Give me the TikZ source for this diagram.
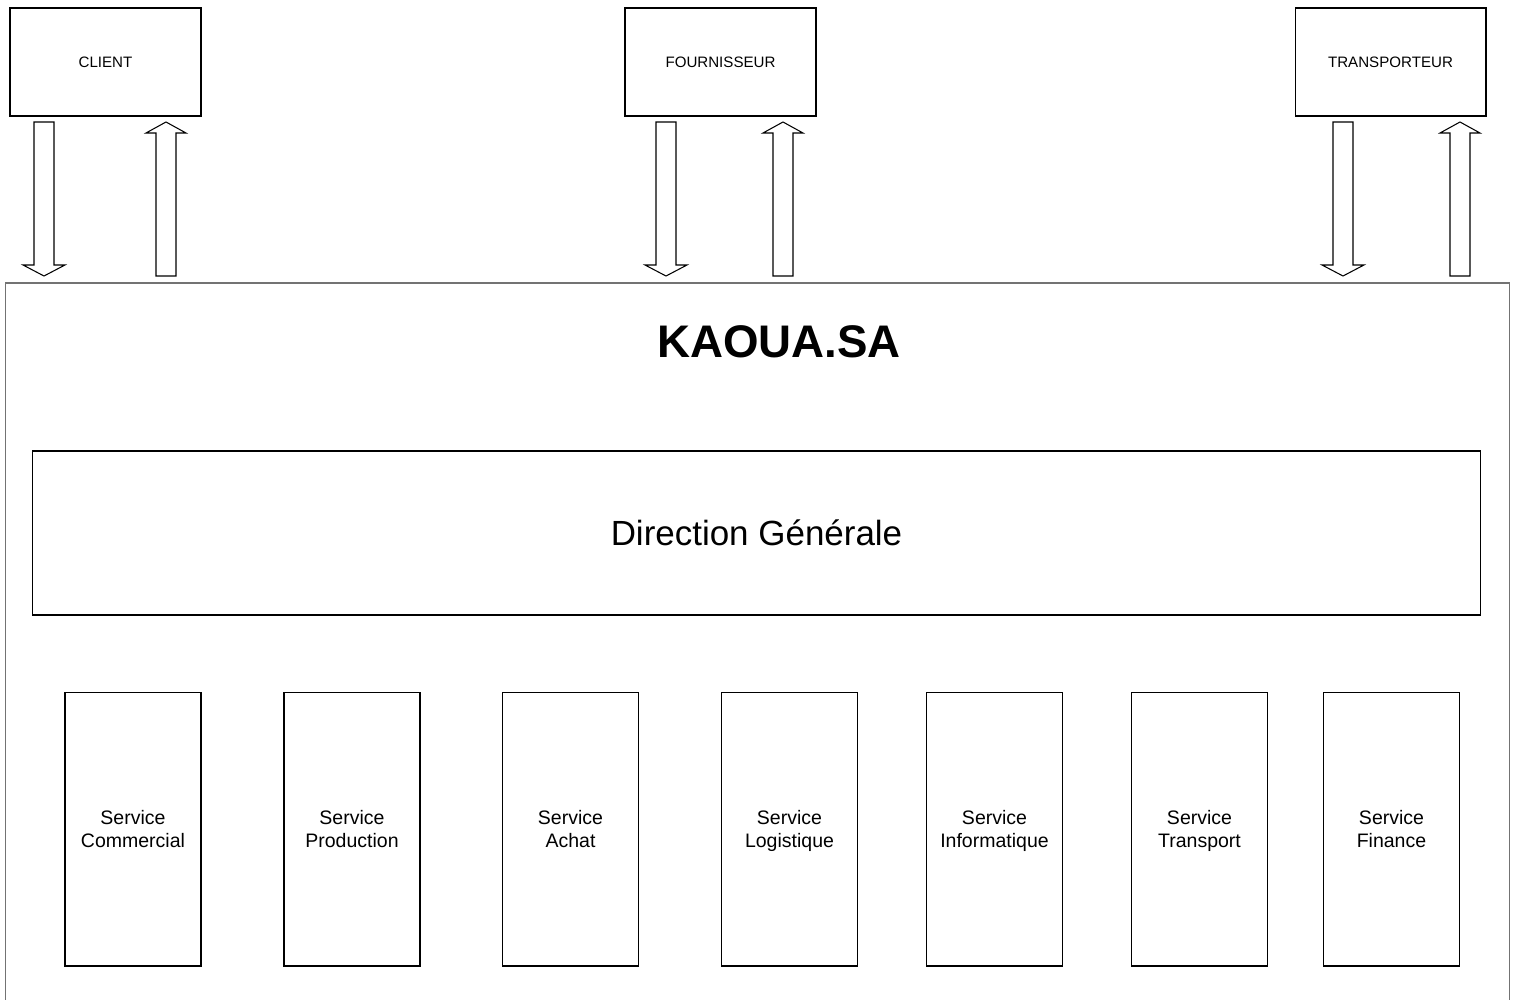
\documentclass[tikz,border=0pt]{standalone}
\usepackage{fontspec}
\setmainfont{Liberation Sans}
\usetikzlibrary{calc}

% hollow block arrows: #1 = x of the axis, #2 = top y, #3 = bottom y
\newcommand\blockdown[3]{%
  \draw[blockarrow] (#1-10,#2) -- (#1+10,#2) -- (#1+10,#3-11) -- (#1+21,#3-11)
    -- (#1,#3) -- (#1-21,#3-11) -- (#1-10,#3-11) -- cycle;}
\newcommand\blockup[3]{%
  \draw[blockarrow] (#1-10,#3) -- (#1+10,#3) -- (#1+10,#2+11) -- (#1+20,#2+11)
    -- (#1,#2) -- (#1-20,#2+11) -- (#1-10,#2+11) -- cycle;}

\begin{document}
\begin{tikzpicture}[x=0.02cm,y=-0.02cm,
  partner/.style={draw=black,line width=0.6pt,minimum width=3.82cm,minimum height=2.16cm,
    inner sep=0pt,font=\fontsize{8.6}{10}\selectfont},
  service/.style={draw=black,line width=0.6pt,minimum width=2.72cm,minimum height=5.48cm,
    inner sep=0pt,align=center,font=\fontsize{11.1}{13}\selectfont,
    execute at end node={\vphantom{g}}},
  servicelabel/.style={align=center,font=\fontsize{11.1}{13}\selectfont,
    execute at end node={\vphantom{g}}},
  blockarrow/.style={draw=black,line width=0.6pt,fill=white},
]
\useasboundingbox (0,0) rectangle (1516,1000);

% external partners
\node[partner] (client) at (105.5,62) {CLIENT};
\node[partner] (fournisseur) at (720.5,62) {FOURNISSEUR};
\node[partner] (transporteur) at (1390.5,62) {TRANSPORTEUR};

% company frame
\node[draw=black!55,line width=1pt,minimum width=30.09cm,minimum height=14.8cm,
  inner sep=0pt,anchor=north west] (kaoua) at (4.5,282) {};
\node[font=\bfseries\fontsize{26}{30}\selectfont] (title) at (779,342) {KAOUA.SA};

% flows between partners and the company
\blockdown{44}{122}{276}
\blockup{166}{122}{276}
\blockdown{666}{122}{276}
\blockup{783}{122}{276}
\blockdown{1343}{122}{276}
\blockup{1460}{122}{276}

% management
\node[draw=black,line width=0.6pt,minimum width=28.98cm,minimum height=3.28cm,
  inner sep=0pt,font=\fontsize{19.9}{23}\selectfont] (dg) at (756.5,533) {Direction Générale};

% departments
\node[service] (commercial) at (133,829) {};
\node[service] (production) at (352,829) {};
\node[service] (achat) at (570.5,829) {};
\node[service] (logistique) at (789.5,829) {};
\node[service] (informatique) at (994.5,829) {};
\node[service] (transport) at (1199.5,829) {};
\node[service] (finance) at (1391.5,829) {};
\foreach \n/\t in {commercial/Commercial,production/Production,achat/Achat,
    logistique/Logistique,informatique/Informatique,transport/Transport,finance/Finance}
  \node[servicelabel] at ([yshift=-0.04cm]\n.center) {Service\\\t};
\end{tikzpicture}
\end{document}
